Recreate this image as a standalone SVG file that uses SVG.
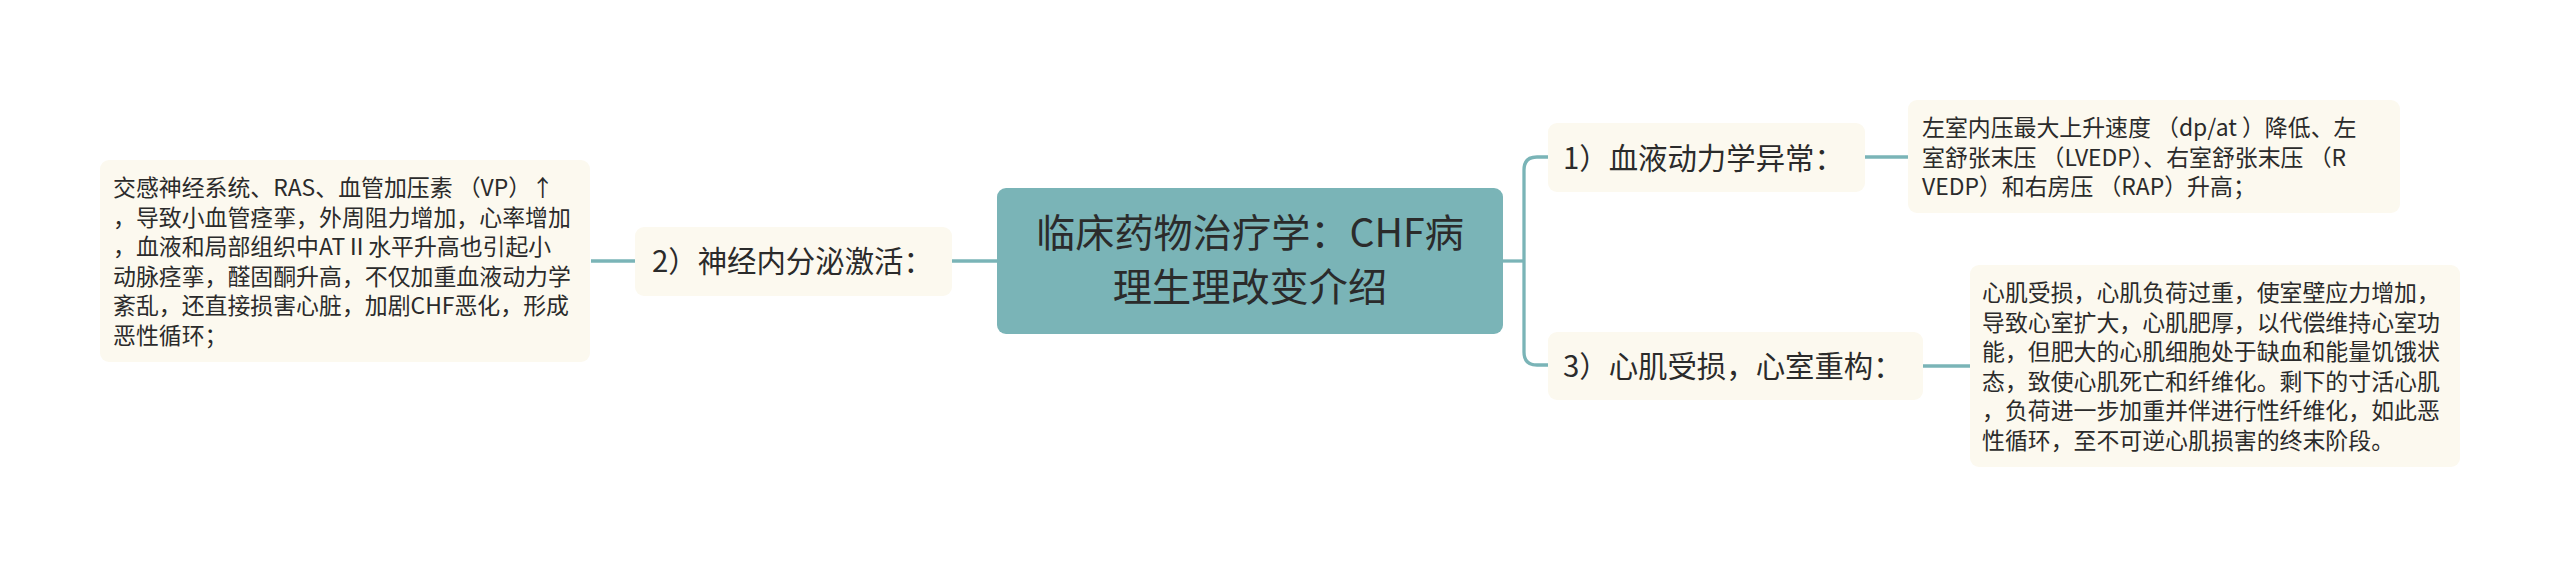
<svg xmlns="http://www.w3.org/2000/svg" width="2560" height="568" viewBox="0 0 2560 568">
<style>
text { font-family: "Noto Sans CJK SC", "Noto Sans", sans-serif; fill: #2b2b2b; }
.box { fill: #fcf9ef; }
.root { fill: #7ab4b7; }
.t1 { font-size: 39.2px; }
.t2 { font-size: 29.4px; }
.t3 { font-size: 22.9px; }
.link { fill: none; stroke: #7ab4b7; stroke-width: 3.3; }
</style>
<rect width="2560" height="568" fill="#ffffff"/>
<g id="connectors">
  <path class="link" d="M997,261 H952"/>
  <path class="link" d="M635,261 H591"/>
  <path class="link" d="M1503,261 H1524"/>
  <path class="link" d="M1548,157 H1537 Q1524,157 1524,170 V352 Q1524,365 1537,365 H1548"/>
  <path class="link" d="M1865,157 H1908"/>
  <path class="link" d="M1923,366 H1970"/>
</g>
<g id="root">
  <rect class="root" x="997" y="188" width="506" height="146" rx="9"/>
  <text class="t1" x="1250" y="247" text-anchor="middle">临床药物治疗学：CHF病</text>
  <text class="t1" x="1250" y="301" text-anchor="middle">理生理改变介绍</text>
</g>
<g id="node2">
  <rect class="box" x="635" y="227" width="317" height="69" rx="9"/>
  <text class="t2" x="652" y="272">2）神经内分泌激活：</text>
</g>
<g id="node2-detail">
  <rect class="box" x="100" y="160" width="490" height="202" rx="9"/>
  <text class="t3" x="113" y="196">交感神经系统、RAS、血管加压素 （VP）↑</text>
  <text class="t3" x="113" y="225.6">，导致小血管痉挛，外周阻力增加，心率增加</text>
  <text class="t3" x="113" y="255.2">，血液和局部组织中ATⅡ水平升高也引起小</text>
  <text class="t3" x="113" y="284.8">动脉痉挛，醛固酮升高，不仅加重血液动力学</text>
  <text class="t3" x="113" y="314.4">紊乱，还直接损害心脏，加剧CHF恶化，形成</text>
  <text class="t3" x="113" y="344">恶性循环；</text>
</g>
<g id="node1">
  <rect class="box" x="1548" y="123" width="317" height="69" rx="9"/>
  <text class="t2" x="1563" y="169">1）血液动力学异常：</text>
</g>
<g id="node1-detail">
  <rect class="box" x="1908" y="100" width="492" height="113" rx="9"/>
  <text class="t3" x="1922" y="136">左室内压最大上升速度 （dp/at ）降低、左</text>
  <text class="t3" x="1922" y="165.6">室舒张末压 （LVEDP）、右室舒张末压 （R</text>
  <text class="t3" x="1922" y="195.2">VEDP）和右房压 （RAP）升高；</text>
</g>
<g id="node3">
  <rect class="box" x="1548" y="332" width="375" height="68" rx="9"/>
  <text class="t2" x="1563" y="377">3）心肌受损，心室重构：</text>
</g>
<g id="node3-detail">
  <rect class="box" x="1970" y="265" width="490" height="202" rx="9"/>
  <text class="t3" x="1982" y="301">心肌受损，心肌负荷过重，使室壁应力增加，</text>
  <text class="t3" x="1982" y="330.6">导致心室扩大，心肌肥厚，以代偿维持心室功</text>
  <text class="t3" x="1982" y="360.2">能，但肥大的心肌细胞处于缺血和能量饥饿状</text>
  <text class="t3" x="1982" y="389.8">态，致使心肌死亡和纤维化。剩下的寸活心肌</text>
  <text class="t3" x="1982" y="419.4">，负荷进一步加重并伴进行性纤维化，如此恶</text>
  <text class="t3" x="1982" y="449">性循环，至不可逆心肌损害的终末阶段。</text>
</g>
</svg>
